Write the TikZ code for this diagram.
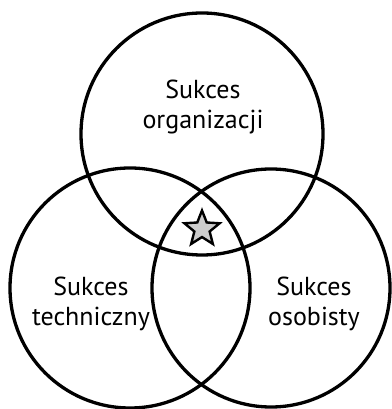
\documentclass[tikz,border=0pt]{standalone}
\usepackage{fontspec}
\setmainfont{PT Sans}
\usetikzlibrary{shapes.geometric}

\begin{document}
\begin{tikzpicture}[x=1pt, y=1pt, line width=3.3pt]

% rozmiar obrazka
\useasboundingbox (0, 0) rectangle (391, 409);

% środki kół
\coordinate (Org) at (202, 275);
\coordinate (Tech) at (130, 121);
\coordinate (Osob) at (271, 121);

% trzy koła
\draw[black] (Org) circle [radius=121];
\draw[black] (Tech) circle [radius=120];
\draw[black] (Osob) circle [radius=119];

% gwiazdka w części wspólnej
\node[star, star points=5, star point ratio=2.3, minimum size=37pt,
      inner sep=0pt, draw=black, line width=2.4pt, fill=black!20]
  (gwiazda) at (202, 180) {};

% podpisy
\node[font=\fontsize{26}{30}\selectfont, align=center] (organizacji)
  at (203, 302) {Sukces\\organizacji};
\node[font=\fontsize{26}{30}\selectfont, align=center] (techniczny)
  at (91, 105) {Sukces\\techniczny};
\node[font=\fontsize{26}{30}\selectfont, align=center] (osobisty)
  at (314, 105) {Sukces\\osobisty};

\end{tikzpicture}
\end{document}
